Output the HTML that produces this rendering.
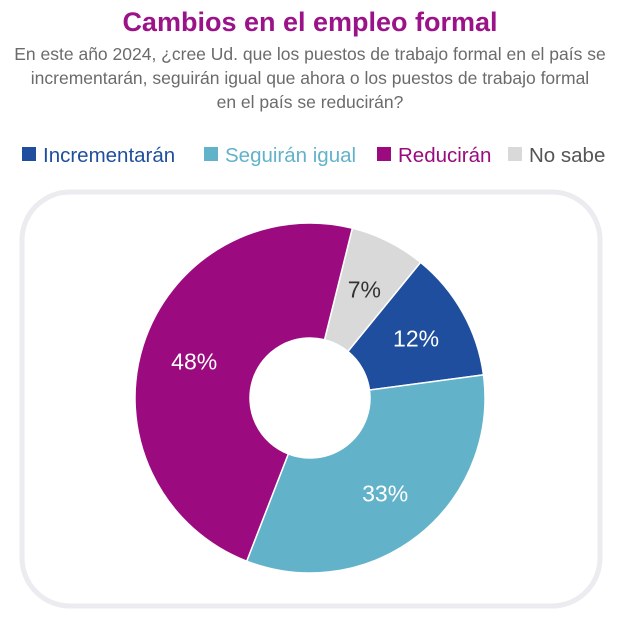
<!DOCTYPE html>
<html><head><meta charset="utf-8"><style>
body{margin:0;width:620px;height:621px;background:#fff;font-family:"Liberation Sans",sans-serif;overflow:hidden}
</style></head><body>
<svg width="620" height="621" xmlns="http://www.w3.org/2000/svg">
<text x="310" y="31" text-anchor="middle" font-size="27" font-weight="bold" fill="#9B1388">Cambios en el empleo formal</text>
<g font-size="17.5" fill="#6b6b6b" text-anchor="middle">
<text x="310" y="60">En este año 2024, ¿cree Ud. que los puestos de trabajo formal en el país se</text>
<text x="310" y="84">incrementarán, seguirán igual que ahora o los puestos de trabajo formal</text>
<text x="310" y="108">en el país se reducirán?</text>
</g>
<g id="legend" font-size="20.5" fill="#444"></g>
<rect x="22" y="192" width="578" height="414" rx="48" fill="none" stroke="#ebebf0" stroke-width="5"/>
<g id="donut"></g>
</svg>
<script>
const categories=["No sabe","Incrementarán","Seguirán igual","Reducirán"];
const values=[7,12,33,48];
const colors=["#D9D9D9","#1F4E9E","#62B3C9","#9B0A7E"];
const labelColors=["#333","#fff","#fff","#fff"];
const legendOrder=[1,2,3,0];
const ns="http://www.w3.org/2000/svg";
const cx=310,cy=398,R=175,r=60,start=14;
const total=values.reduce((a,b)=>a+b,0);
function pt(a,rad){const t=a*Math.PI/180;return [cx+rad*Math.sin(t),cy-rad*Math.cos(t)];}
const g=document.getElementById('donut');
let a=start;
values.forEach((v,i)=>{
 const sweep=v/total*360,b=a+sweep,lg=sweep>180?1:0;
 const [x1,y1]=pt(a,R),[x2,y2]=pt(b,R),[x3,y3]=pt(b,r),[x4,y4]=pt(a,r);
 const p=document.createElementNS(ns,'path');
 p.setAttribute('d',`M${x1},${y1}A${R},${R} 0 ${lg} 1 ${x2},${y2}L${x3},${y3}A${r},${r} 0 ${lg} 0 ${x4},${y4}Z`);
 p.setAttribute('fill',colors[i]);p.setAttribute('stroke','#fff');p.setAttribute('stroke-width','1.5');
 
 
 g.appendChild(p);
 const [lx,ly]=pt(a+sweep/2,(R+r)/2+4);
 const t=document.createElementNS(ns,'text');
 t.setAttribute('x',lx);t.setAttribute('y',ly+8);t.setAttribute('text-anchor','middle');
 t.setAttribute('font-size','23');t.setAttribute('fill',labelColors[i]);
 t.textContent=v+'%';
 
 
 g.appendChild(t);
 a=b;
});
const lg=document.getElementById('legend');
const lx=[22,204,377,508];
legendOrder.forEach((ci,k)=>{
 const rc=document.createElementNS(ns,'rect');
 rc.setAttribute('x',lx[k]);rc.setAttribute('y',147);rc.setAttribute('width',14);rc.setAttribute('height',14);rc.setAttribute('fill',colors[ci]);
 
 
 lg.appendChild(rc);
 const t=document.createElementNS(ns,'text');
 t.setAttribute('x',lx[k]+21);t.setAttribute('y',162);t.textContent=categories[ci];
 t.setAttribute('fill',colors[ci]==="#D9D9D9"?"#555":colors[ci]);
 
 
 lg.appendChild(t);
});
</script>
</body></html>
